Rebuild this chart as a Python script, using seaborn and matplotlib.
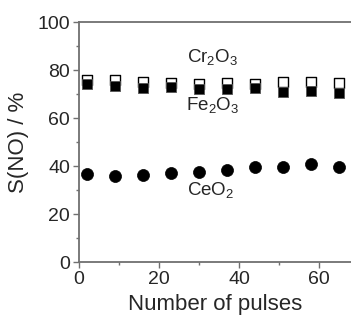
import numpy as np
import pandas as pd
import seaborn as sns
import matplotlib.pyplot as plt
from matplotlib.ticker import MultipleLocator

sns.set_style("ticks")
plt.rcParams["font.family"] = ["Liberation Sans", "DejaVu Sans"]
plt.rcParams["mathtext.fontset"] = "custom"
plt.rcParams["mathtext.rm"] = "Liberation Sans"
plt.rcParams["mathtext.it"] = "Liberation Sans:italic"

pulses = [2, 9, 16, 23, 30, 37, 44, 51, 58, 65]
cr2o3 = [76.1, 75.8, 75.1, 74.9, 74.4, 74.9, 74.4, 75.0, 75.1, 74.9]
fe2o3 = [74.4, 73.6, 72.5, 73.0, 72.1, 72.1, 72.6, 70.8, 71.2, 70.5]
ceo2 = [36.9, 36.1, 36.4, 37.2, 37.7, 38.4, 39.5, 39.5, 40.8, 39.5]

df = pd.DataFrame({"pulses": pulses, "Cr2O3": cr2o3, "Fe2O3": fe2o3, "CeO2": ceo2})

fig = plt.figure(figsize=(3.51, 3.23), dpi=100)
ax = fig.add_axes([0.225, 0.188, 0.775, 0.743])

sns.scatterplot(data=df, x="pulses", y="Cr2O3", ax=ax, marker="s", s=62,
                facecolor="white", edgecolor="black", linewidth=1.0, zorder=3)
sns.scatterplot(data=df, x="pulses", y="Fe2O3", ax=ax, marker="s", s=62,
                color="black", edgecolor="#555555", linewidth=0.6, zorder=4)
sns.scatterplot(data=df, x="pulses", y="CeO2", ax=ax, marker="o", s=75,
                color="black", edgecolor="black", linewidth=0.5, zorder=4)

ax.text(33.3, 85.5, r"Cr$_2$O$_3$", fontsize=13.5, ha="center", va="center")
ax.text(33.3, 65.5, r"Fe$_2$O$_3$", fontsize=13.5, ha="center", va="center")
ax.text(33.0, 30.0, r"CeO$_2$", fontsize=13.5, ha="center", va="center")

ax.set_xlim(0, 68)
ax.set_ylim(0, 100)
ax.xaxis.set_major_locator(MultipleLocator(20))
ax.xaxis.set_minor_locator(MultipleLocator(10))
ax.yaxis.set_major_locator(MultipleLocator(20))
ax.yaxis.set_minor_locator(MultipleLocator(10))

for side in ["left", "bottom", "top"]:
    ax.spines[side].set_visible(True)
    ax.spines[side].set_color("#707070")
    ax.spines[side].set_linewidth(1.3)
ax.spines["right"].set_visible(False)
ax.tick_params(which="both", direction="out", color="#707070", width=1.0,
               labelsize=14, pad=2, top=False, right=False)
ax.tick_params(which="major", length=4.5)
ax.tick_params(which="minor", length=2.5)

ax.set_xlabel("Number of pulses", fontsize=16, labelpad=4)
ax.set_ylabel("S(NO) / %", fontsize=16, labelpad=6)

fig.savefig("out.png", dpi=100)
